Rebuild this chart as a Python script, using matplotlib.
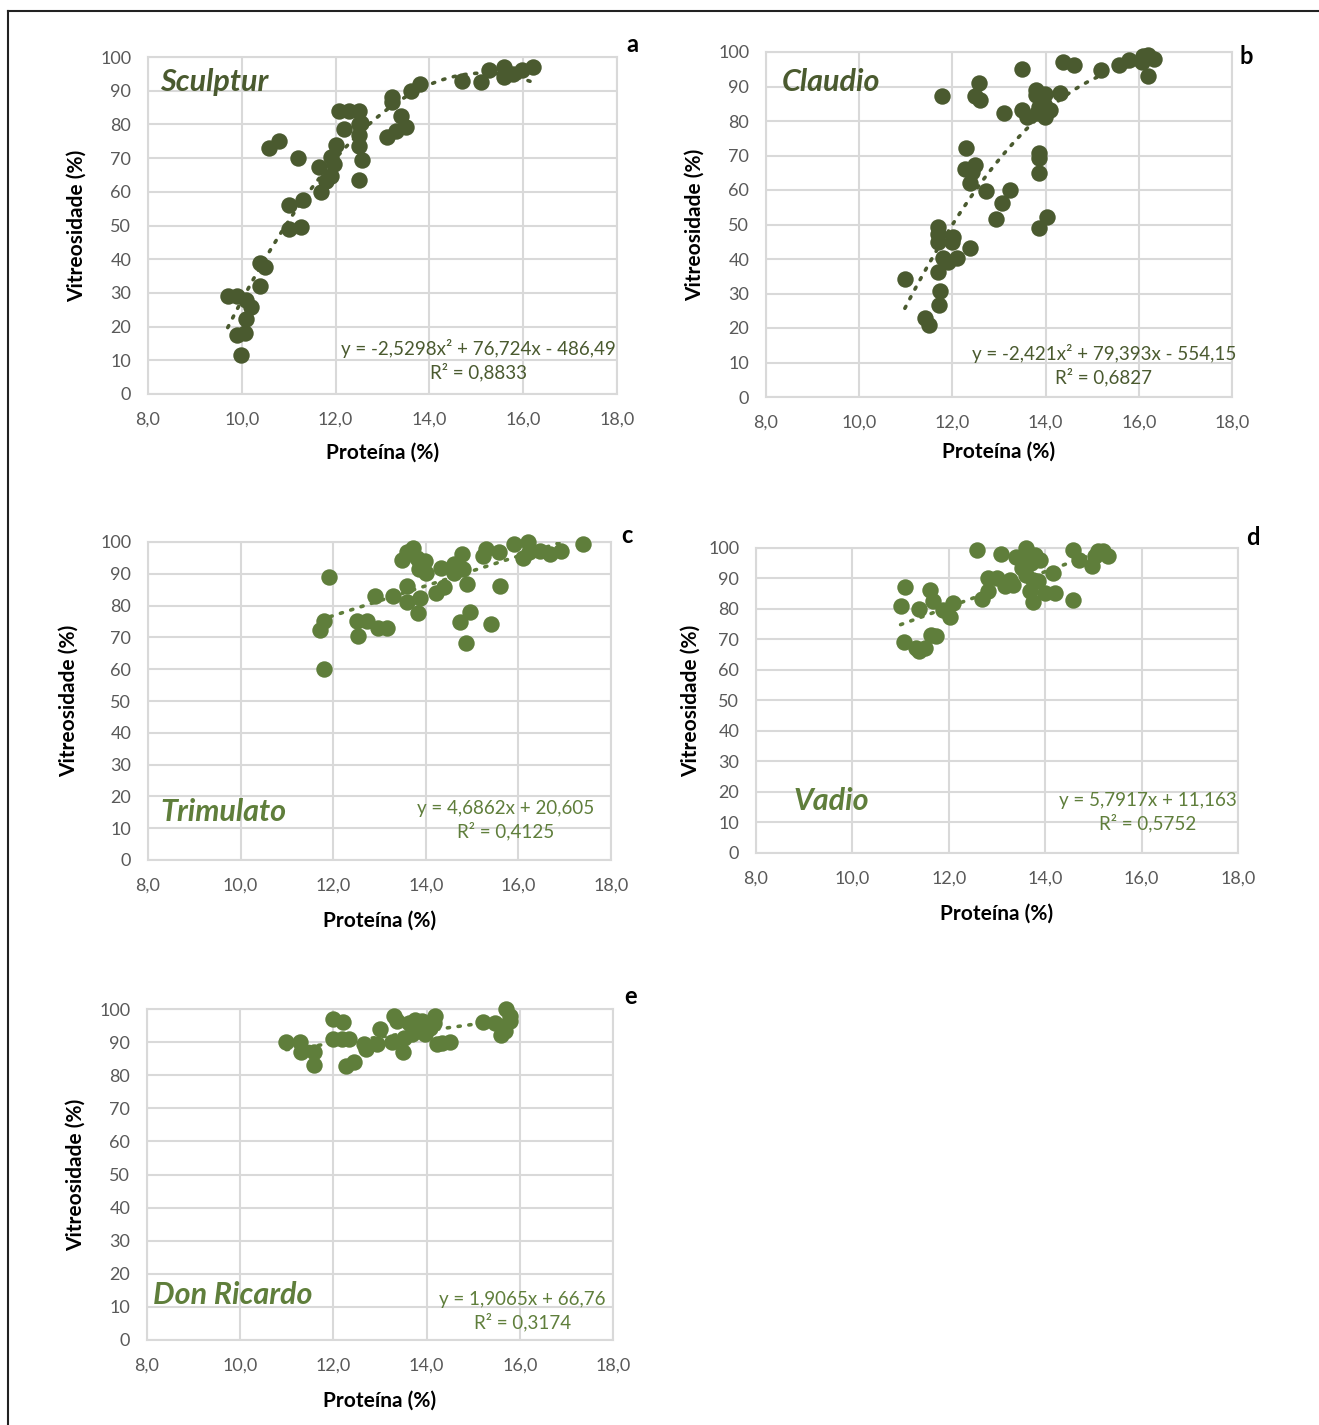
import matplotlib
matplotlib.use("Agg")
import matplotlib.pyplot as plt
from matplotlib.lines import Line2D
import numpy as np

plt.rcParams['font.family'] = ['Lato', 'DejaVu Sans']

# dados lidos do gráfico
# a - Sculptur
prot_a = [9.70, 9.90, 10.08, 10.20, 10.10, 9.90, 10.06, 9.99, 10.39, 10.39, 10.50,
          11.00, 11.26, 11.00, 11.30, 11.19, 10.59, 10.80, 11.69, 11.80, 11.90, 11.65,
          11.97, 11.90, 12.00, 12.18, 12.08, 12.29, 12.50, 12.50, 12.55, 12.50, 12.50,
          12.56, 12.50, 13.10, 13.28, 13.50, 13.39, 13.21, 13.20, 13.60, 13.80, 14.69,
          15.10, 15.28, 15.59, 15.59, 15.78, 15.98, 16.20]
vit_a = [29.0, 29.0, 28.0, 25.8, 22.4, 17.5, 18.0, 11.5, 32.0, 38.9, 37.7,
         49.0, 49.5, 56.0, 57.6, 70.0, 73.0, 75.0, 60.0, 63.3, 64.8, 67.3,
         68.2, 70.2, 74.0, 78.6, 84.0, 84.0, 84.0, 80.0, 80.5, 77.0, 73.7,
         69.4, 63.5, 76.3, 78.0, 79.3, 82.5, 88.0, 86.5, 90.0, 92.0, 93.0,
         92.7, 96.0, 97.0, 94.0, 95.0, 96.0, 97.0]
coef_a = [-2.5298, 76.724, -486.49]

# b - Claudio
prot_b = [10.98, 11.41, 11.49, 11.72, 11.74, 11.70, 11.70, 11.70, 11.70, 12.02, 12.00,
          11.80, 11.90, 12.09, 12.38, 12.29, 12.27, 12.49, 12.38, 12.42, 12.72, 13.06,
          13.24, 12.94, 11.77, 12.58, 12.49, 12.60, 13.10, 13.49, 13.49, 13.60, 13.80,
          13.80, 13.99, 13.85, 13.81, 13.99, 14.10, 13.96, 14.30, 13.86, 13.86, 13.86,
          14.04, 13.86, 14.38, 14.60, 15.19, 15.57, 15.78, 16.10, 16.20, 16.32, 16.07,
          16.19]
vit_b = [34.1, 22.9, 20.9, 26.7, 30.6, 36.1, 49.4, 47.3, 45.0, 46.5, 45.0,
         40.2, 39.2, 40.2, 43.1, 72.3, 66.2, 67.2, 61.9, 65.3, 59.7, 56.1,
         60.0, 51.6, 87.2, 91.1, 87.2, 86.0, 82.2, 95.2, 83.1, 81.2, 88.9,
         87.5, 87.9, 84.1, 82.2, 81.2, 83.1, 85.0, 88.1, 70.8, 69.4, 65.0,
         52.1, 48.9, 97.1, 96.1, 94.9, 96.1, 97.8, 98.7, 99.0, 98.1, 97.1,
         93.1]
coef_b = [-2.421, 79.393, -554.15]

# c - Trimulato
prot_c = [11.91, 11.80, 11.71, 11.80, 12.52, 12.72, 12.53, 12.96, 13.17, 12.91, 13.29,
          13.60, 13.60, 13.88, 13.83, 13.49, 13.72, 13.60, 13.81, 13.88, 13.99, 13.85,
          14.01, 14.32, 14.21, 14.39, 14.60, 14.60, 14.80, 14.78, 14.89, 14.73, 14.96,
          14.86, 15.40, 15.60, 15.31, 15.24, 15.58, 15.90, 16.11, 16.20, 16.22, 16.47,
          16.69, 16.91, 17.40]
vit_c = [89.0, 75.2, 72.3, 60.0, 75.2, 75.2, 70.5, 73.1, 73.1, 83.1, 83.1,
         86.2, 81.2, 82.5, 77.6, 94.4, 98.2, 96.7, 95.1, 93.5, 94.0, 91.4,
         90.4, 91.9, 84.1, 85.7, 93.0, 90.4, 91.4, 96.1, 86.7, 74.7, 78.1,
         68.1, 74.2, 86.2, 97.7, 95.6, 96.7, 99.3, 95.1, 100.0, 96.7, 97.2,
         96.1, 97.2, 99.3]
coef_c = [4.6862, 20.605]

# d - Vadio
prot_d = [11.00, 11.10, 11.08, 11.32, 11.39, 11.50, 11.64, 11.74, 11.39, 11.60, 11.67,
          11.88, 12.02, 12.09, 12.59, 12.69, 12.81, 12.81, 12.99, 13.09, 13.16, 13.33,
          13.26, 13.40, 13.51, 13.60, 13.61, 13.61, 13.71, 13.78, 13.89, 13.75, 13.68,
          13.75, 13.85, 13.99, 14.20, 14.16, 14.58, 14.58, 14.70, 14.98, 15.03, 15.10,
          15.20, 15.31]
vit_d = [81.1, 87.1, 69.1, 67.2, 66.1, 67.2, 71.6, 71.0, 80.0, 86.1, 82.5,
         79.8, 77.4, 82.0, 99.2, 83.3, 85.8, 90.2, 90.2, 98.1, 87.4, 88.0,
         89.6, 97.0, 93.4, 100.0, 97.8, 91.3, 95.1, 97.8, 96.2, 89.6, 85.8,
         82.2, 89.1, 85.2, 85.2, 91.8, 83.1, 99.2, 96.2, 94.2, 97.3, 98.9,
         98.9, 97.3]
coef_d = [5.7917, 11.163]

# e - Don Ricardo
prot_e = [10.99, 11.29, 11.31, 11.58, 11.58, 11.99, 12.20, 11.99, 12.19, 12.33, 12.26,
          12.44, 12.65, 12.69, 12.94, 12.99, 13.26, 13.29, 13.36, 13.49, 13.51, 13.62,
          13.69, 13.76, 13.90, 13.97, 13.94, 14.08, 14.19, 14.15, 14.22, 14.33, 14.51,
          15.21, 15.47, 15.60, 15.69, 15.71, 15.79, 15.79]
vit_e = [90.0, 90.0, 87.0, 87.0, 83.0, 97.0, 96.0, 91.0, 91.0, 91.0, 82.7,
         84.0, 89.3, 87.8, 89.3, 94.0, 90.0, 98.0, 96.3, 87.0, 91.3, 95.8,
         92.3, 96.8, 96.3, 92.3, 94.8, 94.3, 98.0, 95.8, 89.3, 89.8, 90.0,
         96.0, 95.8, 92.0, 93.3, 100.0, 98.0, 96.3]
coef_e = [1.9065, 66.76]

escuro = '#4a5a2f'
claro = '#5f7e3b'

W, H = 1319, 1425
fig = plt.figure(figsize=(W / 100, H / 100), dpi=100)


def px(x, y):
    return x / W, 1 - y / H


paineis = [
    dict(box=(148, 57, 617, 394), x=prot_a, y=vit_a, coef=coef_a, cor=escuro, nome='Sculptur',
         pnome=(8.26, 92.6), eq='y = -2,5298x² + 76,724x - 486,49\nR² = 0,8833', peq=(15.04, 10.1),
         letra='a', pletra=(632, 45), ylx=77, xly=453),
    dict(box=(766, 52, 1232, 397), x=prot_b, y=vit_b, coef=coef_b, cor=escuro, nome='Claudio',
         pnome=(8.34, 91.3), eq='y = -2,421x² + 79,393x - 554,15\nR² = 0,6827', peq=(15.25, 9.3),
         letra='b', pletra=(1246, 57), ylx=695, xly=452),
    dict(box=(148, 542, 611, 860), x=prot_c, y=vit_c, coef=coef_c, cor=claro, nome='Trimulato',
         pnome=(8.26, 15.1), eq='y = 4,6862x + 20,605\nR² = 0,4125', peq=(15.73, 12.6),
         letra='c', pletra=(627, 535), ylx=69, xly=921),
    dict(box=(756, 548, 1238, 853), x=prot_d, y=vit_d, coef=coef_d, cor=claro, nome='Vadio',
         pnome=(8.77, 17.0), eq='y = 5,7917x + 11,163\nR² = 0,5752', peq=(16.13, 13.4),
         letra='d', pletra=(1253, 538), ylx=691, xly=914),
    dict(box=(147, 1009, 613, 1340), x=prot_e, y=vit_e, coef=coef_e, cor=claro, nome='Don Ricardo',
         pnome=(8.13, 13.6), eq='y = 1,9065x + 66,76\nR² = 0,3174', peq=(16.05, 8.8),
         letra='e', pletra=(631, 997), ylx=76, xly=1401),
]

cinza = '#d9d9d9'
for p in paineis:
    x0, y0, x1, y1 = p['box']
    ax = fig.add_axes([x0 / W, 1 - y1 / H, (x1 - x0) / W, (y1 - y0) / H])
    ax.set_xlim(8, 18)
    ax.set_ylim(0, 100)
    ax.set_xticks(np.arange(8, 18.1, 2))
    ax.set_yticks(np.arange(0, 101, 10))
    ax.set_xticklabels([f'{v:.1f}'.replace('.', ',') for v in np.arange(8, 18.1, 2)])
    ax.grid(True, color=cinza, lw=1.5)
    ax.set_axisbelow(True)
    for s in ax.spines.values():
        s.set_color(cinza)
        s.set_linewidth(1.5)
    ax.tick_params(length=0, labelsize=13, labelcolor='#595959')
    ax.tick_params(axis='x', pad=13)
    ax.tick_params(axis='y', pad=12)

    ax.scatter(p['x'], p['y'], s=140, color=p['cor'], zorder=3, linewidths=0, clip_on=False)
    xs = np.linspace(min(p['x']), max(p['x']), 100)
    ax.plot(xs, np.polyval(p['coef'], xs), color=p['cor'], lw=2.6,
            linestyle=(0, (0.6, 2.4)), dash_capstyle='round', zorder=4)

    ax.text(p['pnome'][0], p['pnome'][1], p['nome'], fontsize=22, fontweight='bold',
            fontstyle='italic', color=p['cor'], va='center', ha='left', zorder=5)
    ax.text(p['peq'][0], p['peq'][1], p['eq'], fontsize=13.5, color=p['cor'],
            ha='center', va='center', linespacing=1.3, zorder=5)

    fig.text(*px(*p['pletra']), p['letra'], fontsize=17, fontweight='bold',
             ha='center', va='center')
    fig.text(*px(p['ylx'], (y0 + y1) / 2), 'Vitreosidade (%)', fontsize=15,
             fontweight='bold', rotation=90, ha='center', va='center')
    fig.text(*px((x0 + x1) / 2, p['xly']), 'Proteína (%)', fontsize=15,
             fontweight='bold', ha='center', va='center')

# moldura
fig.add_artist(Line2D([8 / W, 1], [1 - 11 / H, 1 - 11 / H], color='#222222', lw=1.5))
fig.add_artist(Line2D([8 / W, 8 / W], [0, 1 - 11 / H], color='#222222', lw=1.5))

fig.savefig('out.png', dpi=100)
